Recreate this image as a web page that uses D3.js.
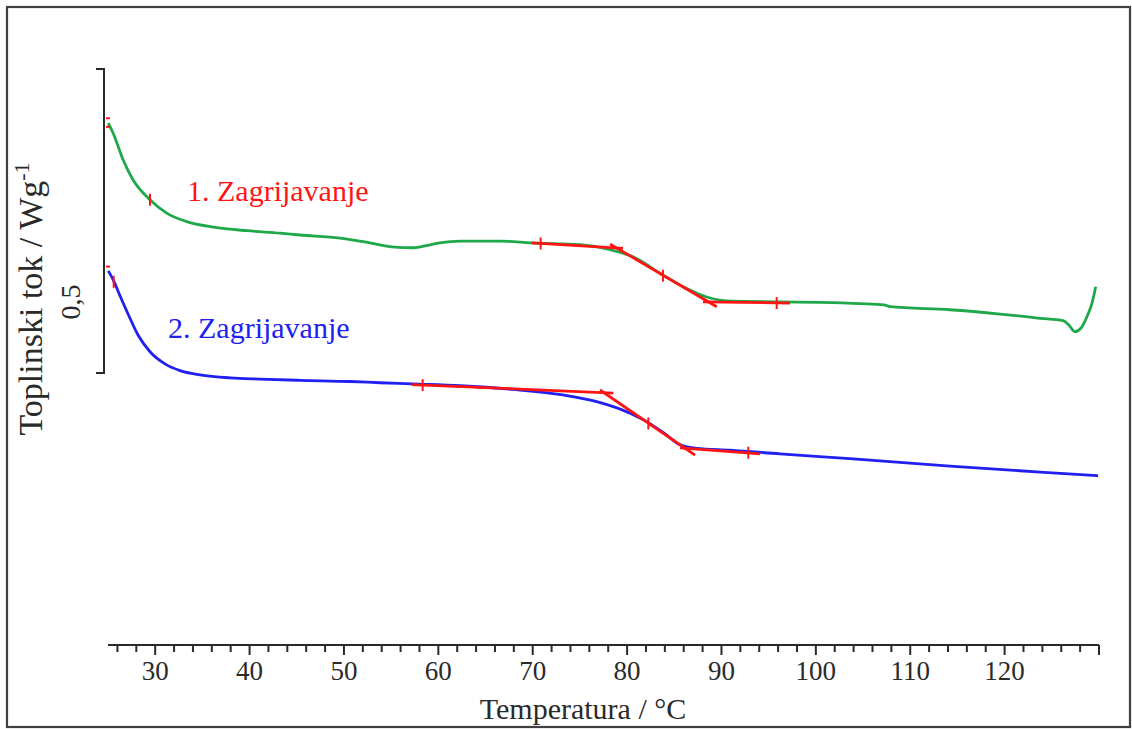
<!DOCTYPE html>
<html>
<head>
<meta charset="utf-8">
<script src="https://cdn.jsdelivr.net/npm/d3@7/dist/d3.min.js"></script>
<style>
  html, body { margin: 0; padding: 0; background: #fff; }
  svg { display: block; }
  text { font-family: "Liberation Serif", "Times New Roman", serif; }
</style>
</head>
<body>
<svg id="chart" width="1132" height="729"></svg>
<script>
// ---- Data (temperature °C, heat flow W/g, relative) ----
const heating1T = [25.03, 25.56, 26.62, 27.68, 29.45, 31.22, 33.34, 36.16, 39.70, 43.22, 45.34, 49.58, 52.76, 55.41, 57.21, 58.59, 60.18, 62.3, 66.53, 69.89, 75.0, 78.19, 80.63, 83.8, 86.32, 88.43, 91.22, 96.2, 100.44, 104.68, 107.22, 107.86, 114.2, 119.51, 123.75, 126.19, 126.8, 127.46, 128.1, 128.73, 129.26, 129.65];
const heating1V = [0.411, 0.394, 0.350, 0.317, 0.285, 0.263, 0.249, 0.240, 0.234, 0.230, 0.227, 0.222, 0.214, 0.207, 0.206, 0.209, 0.214, 0.217, 0.217, 0.214, 0.211, 0.203, 0.191, 0.161, 0.139, 0.125, 0.118, 0.117, 0.116, 0.114, 0.112, 0.109, 0.104, 0.097, 0.090, 0.086, 0.079, 0.068, 0.074, 0.093, 0.115, 0.142];

const heating2T = [25.03, 25.56, 26.27, 27.33, 28.18, 29.45, 31.04, 32.63, 34.75, 37.93, 41.11, 45.34, 50.64, 53.82, 57.18, 62.3, 67.91, 73.21, 76.78, 80.31, 82.08, 84.02, 85.61, 87.38, 90.9, 96.2, 103.6, 114.2, 123.75, 129.9];
const heating2V = [0.168, 0.153, 0.127, 0.090, 0.0625, 0.035, 0.015, 0.004, -0.003, -0.008, -0.010, -0.012, -0.014, -0.016, -0.018, -0.021, -0.027, -0.036, -0.047, -0.066, -0.080, -0.100, -0.118, -0.124, -0.127, -0.133, -0.141, -0.153, -0.163, -0.169];

// Glass-transition construction lines: [T1, V1, T2, V2]
const tangents1 = [
  [69.89, 0.214, 79.57, 0.205],
  [78.19, 0.212, 89.50, 0.109],
  [88.04, 0.117, 97.26, 0.115]
];
const tangents2 = [
  [57.18, -0.019, 78.54, -0.033],
  [77.13, -0.028, 87.20, -0.135],
  [85.61, -0.123, 94.08, -0.133]
];
// Marker ticks on construction lines / limits: [T, V]
const markers1 = [[70.84, 0.213], [83.8, 0.160], [95.85, 0.115], [29.45, 0.285]];
const markers2 = [[58.34, -0.020], [82.25, -0.083], [92.84, -0.131], [25.6, 0.150]];
const startDashes = [[25.0, 0.419], [25.0, 0.405], [25.0, 0.175]];

const xTickValues = d3.range(26, 131, 2);
const xLabelValues = [30, 40, 50, 60, 70, 80, 90, 100, 110, 120];
const scaleBar = [0, 0.5];

const labels = {
  x: "Temperatura / °C",
  y: "Toplinski tok / Wg",
  ySup: "-1",
  bar: "0,5",
  s1: "1. Zagrijavanje",
  s2: "2. Zagrijavanje"
};

// ---- Scales ----
const x = d3.scaleLinear().domain([25, 130]).range([108, 1099]);
const y = d3.scaleLinear().domain([0, 0.5]).range([373, 69]);

const svg = d3.select("#chart");
const green = "#1fa84a", blue = "#2020f2", red = "#ff1414", ink = "#2a2a2a";

// Frame
svg.append("rect").attr("x", 7).attr("y", 7).attr("width", 1123).attr("height", 720)
  .attr("fill", "none").attr("stroke", "#404040").attr("stroke-width", 2.2);

// X axis
const axisY = 645;
const xAxis = svg.append("g").attr("transform", `translate(0,${axisY})`);
xAxis.append("line").attr("x1", x(25)).attr("x2", x(130)).attr("stroke", ink).attr("stroke-width", 2);
xAxis.selectAll("line.tick").data(xTickValues).join("line").attr("class", "tick")
  .attr("x1", d => x(d)).attr("x2", d => x(d)).attr("y1", 0)
  .attr("y2", d => (d % 10 === 0 ? 10 : 7))
  .attr("stroke", ink).attr("stroke-width", 2);
xAxis.selectAll("text").data(xLabelValues).join("text")
  .attr("x", d => x(d)).attr("y", 35).attr("text-anchor", "middle")
  .attr("font-size", 27).attr("fill", ink).text(d => d);
svg.append("text").attr("x", 583).attr("y", 719).attr("text-anchor", "middle")
  .attr("font-size", 30).attr("fill", ink).text(labels.x);

// Scale bar
const barX = 104;
svg.append("path")
  .attr("d", `M${barX - 8},${y(scaleBar[1])}H${barX}V${y(scaleBar[0])}H${barX - 8}`)
  .attr("fill", "none").attr("stroke", ink).attr("stroke-width", 2);
svg.append("text").attr("transform", `translate(80,${(y(0) + y(0.5)) / 2 + 81}) rotate(-90)`)
  .attr("text-anchor", "middle").attr("font-size", 28).attr("fill", ink).text(labels.bar);

// Y label
const yl = svg.append("text").attr("transform", "translate(42,299) rotate(-90)")
  .attr("text-anchor", "middle").attr("font-size", 34).attr("fill", ink);
yl.append("tspan").text(labels.y);
yl.append("tspan").attr("dy", -13).attr("font-size", 22).text(labels.ySup);

// Curves
const line = d3.line().x(d => x(d[0])).y(d => y(d[1])).curve(d3.curveMonotoneX);
svg.append("path").datum(heating1T.map((t, i) => [t, heating1V[i]]))
  .attr("d", line).attr("fill", "none").attr("stroke", green).attr("stroke-width", 2.8);
svg.append("path").datum(heating2T.map((t, i) => [t, heating2V[i]]))
  .attr("d", line).attr("fill", "none").attr("stroke", blue).attr("stroke-width", 2.8);

// Construction lines
function drawConstruction(tans) {
  svg.append("g").selectAll("line").data(tans).join("line")
    .attr("x1", d => x(d[0])).attr("y1", d => y(d[1]))
    .attr("x2", d => x(d[2])).attr("y2", d => y(d[3]))
    .attr("stroke", red).attr("stroke-width", 2.8);
}
drawConstruction(tangents1);
drawConstruction(tangents2);

function drawMarkers(ms) {
  svg.append("g").selectAll("line").data(ms).join("line")
    .attr("x1", d => x(d[0])).attr("x2", d => x(d[0]))
    .attr("y1", d => y(d[1]) - 6).attr("y2", d => y(d[1]) + 6)
    .attr("stroke", red).attr("stroke-width", 2);
}
drawMarkers(markers1);
drawMarkers(markers2);
svg.append("g").selectAll("line").data(startDashes).join("line")
  .attr("x1", d => x(d[0]) - 2).attr("x2", d => x(d[0]) + 2)
  .attr("y1", d => y(d[1])).attr("y2", d => y(d[1]))
  .attr("stroke", red).attr("stroke-width", 2);

// Series labels
svg.append("text").attr("x", 187).attr("y", 201).attr("font-size", 30).attr("fill", red).text(labels.s1);
svg.append("text").attr("x", 168).attr("y", 338).attr("font-size", 30).attr("fill", blue).text(labels.s2);
</script>
</body>
</html>
